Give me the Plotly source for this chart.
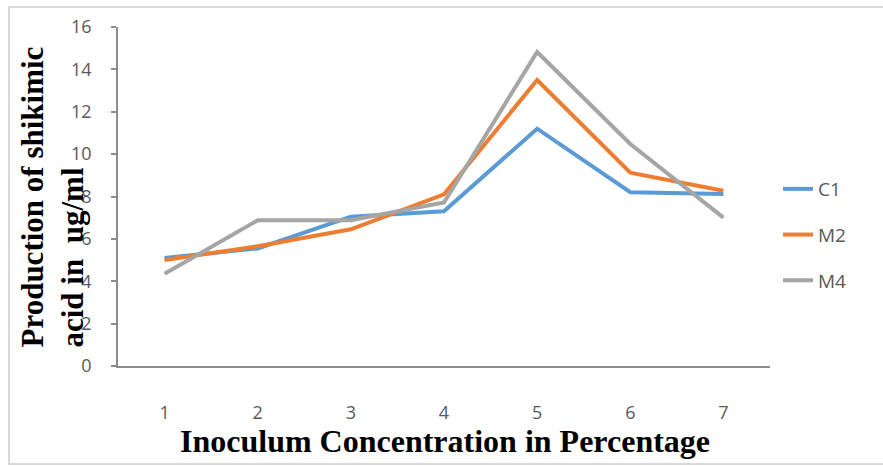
import plotly.graph_objects as go

categories = ["1", "2", "3", "4", "5", "6", "7"]
c1 = [5.1, 5.55, 7.05, 7.3, 11.2, 8.2, 8.12]
m2 = [5.0, 5.65, 6.45, 8.1, 13.5, 9.12, 8.27]
m4 = [4.35, 6.88, 6.88, 7.72, 14.82, 10.48, 7.0]
series_names = ["C1", "M2", "M4"]
colors = ["#5B9BD5", "#ED7D31", "#A5A5A5"]

W, H = 883, 466
ml, mr, mt, mb = 118, 113, 27, 100
pw, ph = W - ml - mr, H - mt - mb

def px_x(p):
    return (p - ml) / pw

def px_y(p):
    return (H - mb - p) / ph

fig = go.Figure()
for i, (name, vals) in enumerate(zip(series_names, [c1, m2, m4])):
    fig.add_trace(go.Scatter(
        x=categories, y=vals, mode="lines", name=name,
        legendgroup=name,
        line=dict(color=colors[i], width=4),
    ))

tick_font = dict(family="Open Sans, Liberation Sans, Arial, sans-serif", size=18, color="#595959")

fig.update_layout(
    width=W, height=H,
    margin=dict(l=ml, r=mr, t=mt, b=mb),
    paper_bgcolor="white", plot_bgcolor="white",
    showlegend=True,
    legend=dict(
        x=px_x(778), y=px_y(170), xanchor="left", yanchor="top",
        font=dict(family="Open Sans, Liberation Sans, Arial, sans-serif", size=19, color="#595959"),
        tracegroupgap=18, traceorder="grouped",
        bgcolor="rgba(0,0,0,0)",
    ),
    xaxis=dict(
        type="category", range=[-0.5, 6.5],
        showline=True, linecolor="#8c8c8c", linewidth=1.5,
        ticks="", showgrid=False, zeroline=False,
        tickfont=tick_font, ticklabelstandoff=30,
    ),
    yaxis=dict(
        range=[0, 16], dtick=2,
        showline=True, linecolor="#8c8c8c", linewidth=1.5,
        ticks="outside", ticklen=5, tickcolor="#8c8c8c", tickwidth=1.5,
        showgrid=False, zeroline=False,
        tickfont=tick_font, ticklabelstandoff=16,
    ),
    annotations=[
        dict(
            text="<b>Production of shikimic</b><br><b>acid in  ug/ml</b>",
            textangle=-90, align="left",
            xref="paper", yref="paper",
            x=px_x(52), y=px_y(350), xanchor="center", yanchor="bottom",
            showarrow=False,
            font=dict(family="Liberation Serif, Times New Roman, serif", size=31, color="black"),
        ),
        dict(
            text="<b>Inoculum Concentration in Percentage</b>",
            xref="paper", yref="paper",
            x=px_x(445), y=px_y(441), xanchor="center", yanchor="middle",
            showarrow=False,
            font=dict(family="Liberation Serif, Times New Roman, serif", size=32, color="black"),
        ),
    ],
    shapes=[
        dict(type="rect", xref="paper", yref="paper",
             x0=px_x(9), x1=px_x(886), y0=px_y(464), y1=px_y(7),
             line=dict(color="#d9d9d9", width=2), fillcolor="rgba(0,0,0,0)", layer="below"),
    ],
)

fig.write_html("out.html")
